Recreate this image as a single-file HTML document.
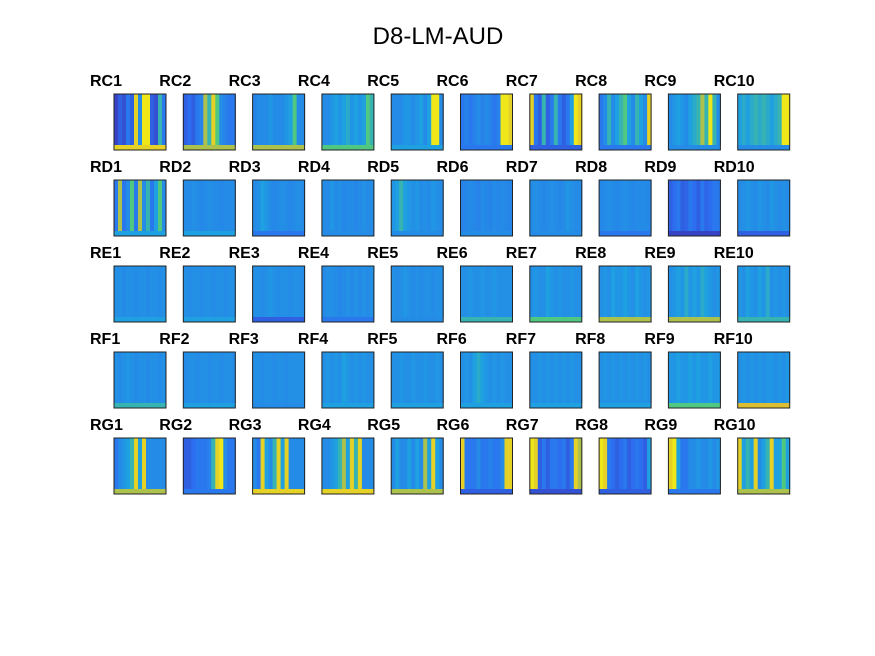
<!DOCTYPE html>
<html><head><meta charset="utf-8"><style>
body{margin:0;background:#fff;}
svg{display:block;font-family:"Liberation Sans",sans-serif;}
</style></head><body>
<svg id="fig" width="875" height="656" viewBox="0 0 875 656">
<rect width="875" height="656" fill="#fff"/>
<text x="438" y="44" text-anchor="middle" font-size="24">D8-LM-AUD</text>
<g id="panels"></g>
</svg>
<script>
const rowNames=["RC","RD","RE","RF","RG"];
const colNums=[1,2,3,4,5,6,7,8,9,10];
const colProfiles=[
[0.1,0.2,0.15,0.3,0.2,0.9,0.4,0.95,0.95,0.2,0.15,0.6,0.3],
[0.2,0.25,0.2,0.3,0.35,0.8,0.6,0.9,0.7,0.4,0.35,0.3,0.3],
[0.35,0.4,0.4,0.4,0.45,0.4,0.4,0.4,0.45,0.5,0.7,0.4,0.4],
[0.4,0.4,0.45,0.5,0.45,0.5,0.55,0.45,0.5,0.45,0.5,0.7,0.6],
[0.4,0.4,0.4,0.45,0.45,0.4,0.45,0.5,0.4,0.5,0.95,0.95,0.4],
[0.3,0.35,0.3,0.35,0.4,0.35,0.4,0.35,0.3,0.35,0.95,0.95,0.9],
[0.9,0.3,0.2,0.6,0.2,0.3,0.6,0.3,0.2,0.3,0.5,0.95,0.9],
[0.3,0.4,0.6,0.4,0.5,0.6,0.7,0.5,0.4,0.6,0.5,0.4,0.9],
[0.4,0.45,0.5,0.45,0.4,0.5,0.55,0.6,0.8,0.6,0.95,0.6,0.4],
[0.5,0.55,0.5,0.55,0.6,0.55,0.6,0.55,0.5,0.55,0.6,0.95,0.95],
[0.3,0.8,0.3,0.4,0.7,0.3,0.8,0.4,0.6,0.3,0.5,0.7,0.4],
[0.4,0.4,0.42,0.4,0.38,0.4,0.42,0.4,0.4,0.38,0.4,0.4,0.4],
[0.4,0.42,0.5,0.45,0.4,0.38,0.4,0.42,0.4,0.38,0.4,0.42,0.4],
[0.4,0.4,0.45,0.4,0.42,0.38,0.4,0.4,0.38,0.4,0.42,0.4,0.4],
[0.45,0.5,0.6,0.5,0.45,0.42,0.45,0.4,0.42,0.4,0.45,0.42,0.4],
[0.35,0.38,0.4,0.38,0.35,0.4,0.38,0.36,0.4,0.38,0.4,0.38,0.36],
[0.4,0.42,0.4,0.38,0.4,0.42,0.4,0.38,0.4,0.45,0.42,0.4,0.4],
[0.38,0.4,0.42,0.4,0.38,0.4,0.42,0.4,0.38,0.4,0.4,0.4,0.38],
[0.2,0.25,0.3,0.2,0.22,0.3,0.25,0.2,0.3,0.22,0.25,0.3,0.3],
[0.4,0.42,0.45,0.42,0.4,0.45,0.42,0.4,0.45,0.42,0.4,0.42,0.4],
[0.42,0.42,0.4,0.42,0.42,0.4,0.42,0.42,0.4,0.42,0.42,0.4,0.42],
[0.42,0.4,0.42,0.42,0.4,0.42,0.42,0.4,0.42,0.42,0.4,0.42,0.42],
[0.42,0.42,0.4,0.42,0.45,0.42,0.4,0.42,0.42,0.4,0.42,0.42,0.4],
[0.4,0.42,0.42,0.4,0.38,0.4,0.42,0.4,0.42,0.4,0.42,0.4,0.42],
[0.42,0.4,0.42,0.45,0.42,0.4,0.42,0.4,0.42,0.42,0.4,0.42,0.42],
[0.42,0.42,0.45,0.42,0.42,0.45,0.42,0.42,0.45,0.42,0.42,0.42,0.42],
[0.42,0.45,0.42,0.42,0.5,0.45,0.42,0.45,0.42,0.42,0.45,0.42,0.42],
[0.42,0.45,0.42,0.5,0.45,0.45,0.5,0.45,0.42,0.5,0.45,0.42,0.45],
[0.42,0.45,0.5,0.45,0.55,0.45,0.5,0.45,0.55,0.5,0.45,0.42,0.45],
[0.45,0.42,0.5,0.45,0.42,0.5,0.45,0.55,0.42,0.45,0.42,0.45,0.42],
[0.42,0.4,0.42,0.45,0.42,0.4,0.42,0.42,0.4,0.42,0.42,0.4,0.42],
[0.4,0.42,0.42,0.4,0.42,0.42,0.4,0.42,0.42,0.4,0.42,0.42,0.4],
[0.42,0.42,0.4,0.42,0.42,0.4,0.42,0.42,0.4,0.42,0.42,0.42,0.42],
[0.42,0.45,0.42,0.45,0.42,0.5,0.45,0.42,0.45,0.42,0.45,0.42,0.42],
[0.42,0.42,0.45,0.42,0.42,0.45,0.42,0.42,0.45,0.42,0.42,0.45,0.42],
[0.42,0.45,0.42,0.5,0.55,0.5,0.45,0.42,0.45,0.42,0.45,0.42,0.42],
[0.42,0.42,0.45,0.42,0.45,0.42,0.45,0.42,0.45,0.42,0.45,0.42,0.42],
[0.42,0.45,0.42,0.45,0.42,0.45,0.42,0.45,0.42,0.45,0.42,0.45,0.42],
[0.45,0.45,0.5,0.45,0.45,0.5,0.45,0.5,0.45,0.45,0.5,0.45,0.45],
[0.42,0.45,0.42,0.45,0.42,0.45,0.42,0.45,0.45,0.42,0.45,0.42,0.45],
[0.3,0.4,0.45,0.5,0.6,0.9,0.5,0.9,0.4,0.4,0.4,0.4,0.4],
[0.2,0.2,0.25,0.3,0.3,0.3,0.35,0.6,0.9,0.95,0.4,0.3,0.3],
[0.4,0.3,0.9,0.5,0.4,0.6,0.9,0.5,0.9,0.4,0.4,0.4,0.4],
[0.4,0.4,0.45,0.5,0.6,0.8,0.5,0.9,0.6,0.9,0.4,0.4,0.4],
[0.4,0.5,0.4,0.4,0.5,0.4,0.5,0.4,0.8,0.5,0.9,0.5,0.4],
[0.9,0.3,0.3,0.3,0.4,0.3,0.3,0.35,0.3,0.3,0.4,0.9,0.9],
[0.95,0.9,0.2,0.3,0.2,0.3,0.3,0.25,0.3,0.2,0.3,0.9,0.8],
[0.95,0.9,0.3,0.25,0.2,0.25,0.3,0.2,0.25,0.3,0.25,0.2,0.5],
[0.9,0.95,0.5,0.3,0.3,0.4,0.4,0.45,0.4,0.4,0.45,0.4,0.45],
[0.9,0.5,0.6,0.5,0.9,0.4,0.5,0.6,0.9,0.5,0.5,0.7,0.5]
];
const bottomValues=[0.9,0.8,0.8,0.7,0.5,0.3,0.2,0.3,0.4,0.4,
0.5,0.5,0.3,0.4,0.4,0.4,0.4,0.3,0.1,0.2,
0.5,0.5,0.2,0.3,0.4,0.6,0.7,0.8,0.8,0.6,
0.6,0.5,0.4,0.5,0.5,0.5,0.5,0.5,0.7,0.85,
0.8,0.3,0.9,0.9,0.8,0.2,0.15,0.2,0.3,0.8];

const stops=[[0,[62,38,168]],[0.25,[45,110,240]],[0.5,[30,160,225]],[0.7,[80,200,130]],[0.85,[220,190,50]],[1,[249,251,14]]];
function parula(v){v=Math.max(0,Math.min(1,v));for(let i=1;i<stops.length;i++){if(v<=stops[i][0]){const a=stops[i-1],b=stops[i],t=(v-a[0])/(b[0]-a[0]);return 'rgb('+a[1].map((c,k)=>Math.round(c+(b[1][k]-c)*t)).join(',')+')';}}return 'rgb(249,251,14)';}
const x0=114,dx=69.3,y0=94,dy=86,W=52,H=56,band=5;
function px(c){return x0+c*dx;}
function py(r){return y0+r*dy;}
const NS='http://www.w3.org/2000/svg';
const g=document.getElementById('panels');
rowNames.forEach((rn,r)=>{colNums.forEach((cn,c)=>{
  const idx=r*10+c,prof=colProfiles[idx],x=px(c),y=py(r);
  const pg=document.createElementNS(NS,'g');
  
  
  const cw=W/prof.length;
  prof.forEach((v,k)=>{
    const rc=document.createElementNS(NS,'rect');
    
    
    rc.setAttribute('x',x+k*cw);rc.setAttribute('y',y);rc.setAttribute('width',cw+0.5);rc.setAttribute('height',H-band);rc.setAttribute('fill',parula(v));pg.appendChild(rc);
  });
  const b=document.createElementNS(NS,'rect');
  
  
  b.setAttribute('x',x);b.setAttribute('y',y+H-band);b.setAttribute('width',W);b.setAttribute('height',band);b.setAttribute('fill',parula(bottomValues[idx]));pg.appendChild(b);
  const f=document.createElementNS(NS,'rect');
  
  
  f.setAttribute('x',x);f.setAttribute('y',y);f.setAttribute('width',W);f.setAttribute('height',H);f.setAttribute('fill','none');f.setAttribute('stroke','#222');f.setAttribute('stroke-width','1');pg.appendChild(f);
  const t=document.createElementNS(NS,'text');
  
  
  t.setAttribute('x',x-24);t.setAttribute('y',y-8);t.setAttribute('font-size','16');t.setAttribute('font-weight','bold');t.textContent=rn+cn;pg.appendChild(t);
  g.appendChild(pg);
});});
</script>
</body></html>
